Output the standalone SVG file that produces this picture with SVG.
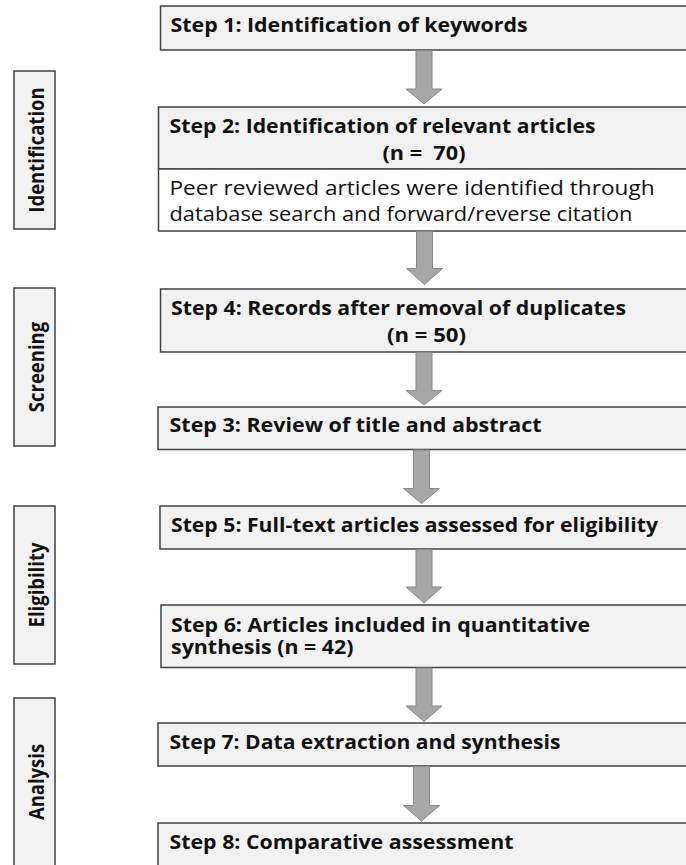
<svg xmlns="http://www.w3.org/2000/svg" width="686" height="865" viewBox="0 0 686 865">
<style>
  .box { fill: #f2f2f2; stroke: #404040; stroke-width: 1.5; }
  .body { fill: #ffffff; stroke: #404040; stroke-width: 1.5; }
  .side { fill: #f2f2f2; stroke: #404040; stroke-width: 1.5; }
  .t { font-family: "Open Sans", "Liberation Sans", sans-serif; font-size: 19.5px; font-weight: bold; fill: #111111; }
  .r { font-family: "Open Sans", "Liberation Sans", sans-serif; font-size: 19.5px; font-weight: normal; fill: #111111; }
  .s { font-family: "Open Sans", "Liberation Sans", sans-serif; font-size: 18.5px; font-weight: bold; fill: #111111; text-anchor: middle; }
  .arrow { fill: #a8a6a6; stroke: #8a8888; stroke-width: 1; }
</style>
<rect x="0" y="0" width="686" height="865" fill="#ffffff"/>

<g id="phase-identification">
  <rect class="side" x="14" y="71" width="41" height="158"/>
  <text class="s" transform="translate(43.5,150) rotate(-90) scale(1,1.12)">Identification</text>
</g>
<g id="phase-screening">
  <rect class="side" x="14" y="288" width="41" height="158"/>
  <text class="s" transform="translate(43.5,367) rotate(-90) scale(1,1.12)">Screening</text>
</g>
<g id="phase-eligibility">
  <rect class="side" x="14" y="506" width="41" height="158"/>
  <text class="s" transform="translate(43.5,585) rotate(-90) scale(1,1.12)">Eligibility</text>
</g>
<g id="phase-analysis">
  <rect class="side" x="14" y="698" width="41" height="172"/>
  <text class="s" transform="translate(43.5,782) rotate(-90) scale(1,1.12)">Analysis</text>
</g>

<g id="step1">
  <rect class="box" x="160.5" y="6" width="540" height="44"/>
  <text class="t" x="170.5" y="32" textLength="357" lengthAdjust="spacingAndGlyphs">Step 1: Identification of keywords</text>
</g>
<g id="step2">
  <rect class="box" x="158.5" y="107" width="540" height="62"/>
  <rect class="body" x="158.5" y="169" width="540" height="62"/>
  <text class="t" x="169.5" y="133" textLength="426" lengthAdjust="spacingAndGlyphs">Step 2: Identification of relevant articles</text>
  <text class="t" x="382.5" y="160" textLength="83" lengthAdjust="spacingAndGlyphs" xml:space="preserve" style="white-space:pre">(n =  70)</text>
  <text class="r" x="169.5" y="195" textLength="485" lengthAdjust="spacingAndGlyphs">Peer reviewed articles were identified through</text>
  <text class="r" x="169.5" y="221" textLength="463" lengthAdjust="spacingAndGlyphs">database search and forward/reverse citation</text>
</g>
<g id="step4">
  <rect class="box" x="160.5" y="289" width="540" height="63"/>
  <text class="t" x="171" y="314.5" textLength="455" lengthAdjust="spacingAndGlyphs">Step 4: Records after removal of duplicates</text>
  <text class="t" x="387" y="342" textLength="79" lengthAdjust="spacingAndGlyphs">(n = 50)</text>
</g>
<g id="step3">
  <rect class="box" x="158" y="407" width="540" height="42.5"/>
  <text class="t" x="169.5" y="432" textLength="372" lengthAdjust="spacingAndGlyphs">Step 3: Review of title and abstract</text>
</g>
<g id="step5">
  <rect class="box" x="160" y="506" width="540" height="43"/>
  <text class="t" x="171" y="532" textLength="487" lengthAdjust="spacingAndGlyphs">Step 5: Full-text articles assessed for eligibility</text>
</g>
<g id="step6">
  <rect class="box" x="161" y="605" width="540" height="62.5"/>
  <text class="t" x="171" y="631.5" textLength="419" lengthAdjust="spacingAndGlyphs">Step 6: Articles included in quantitative</text>
  <text class="t" x="171" y="653.5" textLength="182.5" lengthAdjust="spacingAndGlyphs">synthesis (n = 42)</text>
</g>
<g id="step7">
  <rect class="box" x="158" y="723" width="540" height="43"/>
  <text class="t" x="169.5" y="748.5" textLength="391" lengthAdjust="spacingAndGlyphs">Step 7: Data extraction and synthesis</text>
</g>
<g id="step8">
  <rect class="box" x="158" y="823" width="540" height="50"/>
  <text class="t" x="169.5" y="848.5" textLength="344" lengthAdjust="spacingAndGlyphs">Step 8: Comparative assessment</text>
</g>

<g id="connectors">
  <polygon class="arrow" points="416,50.5 432,50.5 432,89 442,89 424,104 406,89 416,89"/>
  <polygon class="arrow" points="416.5,231.5 432.5,231.5 432.5,268.5 442.5,268.5 424.5,284.5 406.5,268.5 416.5,268.5"/>
  <polygon class="arrow" points="416,352.5 432,352.5 432,390.5 442,390.5 424,405 406,390.5 416,390.5"/>
  <polygon class="arrow" points="413.5,450 429.5,450 429.5,488.5 439.5,488.5 421.5,503.5 403.5,488.5 413.5,488.5"/>
  <polygon class="arrow" points="416,549.5 432,549.5 432,587 442,587 424,603 406,587 416,587"/>
  <polygon class="arrow" points="416,668 432,668 432,706 442,706 424,721.5 406,706 416,706"/>
  <polygon class="arrow" points="413.5,766.5 429.5,766.5 429.5,805.5 439.5,805.5 421.5,821 403.5,805.5 413.5,805.5"/>
</g>
</svg>
